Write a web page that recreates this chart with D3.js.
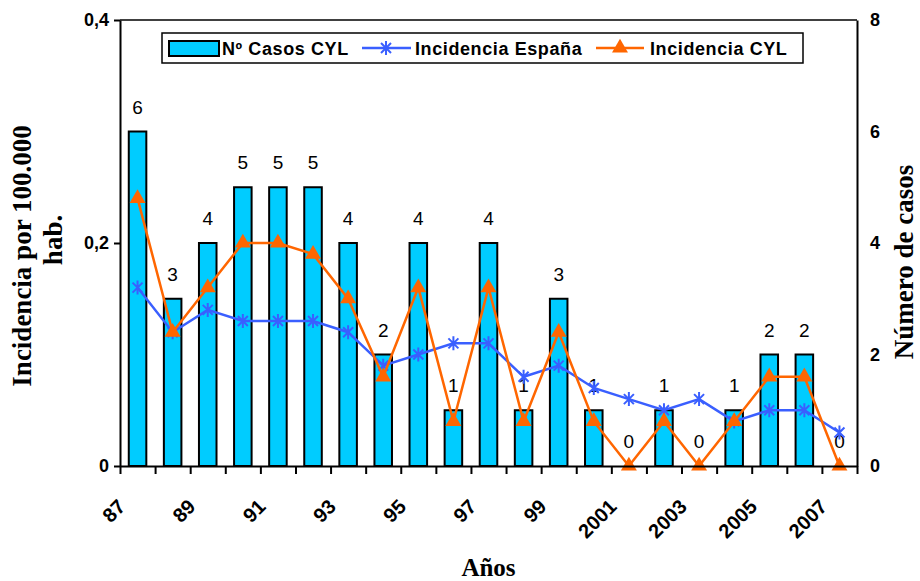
<!DOCTYPE html>
<html>
<head>
<meta charset="utf-8">
<script src="https://cdn.jsdelivr.net/npm/d3@7"></script>
<style>
  body { margin: 0; background: #fff; }
  svg { display: block; }
</style>
</head>
<body>
<svg id="chart" width="920" height="581"></svg>
<script>
// datos
const anios = ["87","88","89","90","91","92","93","94","95","96","97","98","99",
               "2000","2001","2002","2003","2004","2005","2006","2007"];
const casosCYL = [6,3,4,5,5,5,4,2,4,1,4,1,3,1,0,1,0,1,2,2,0];
const incEspana = [0.16,0.12,0.14,0.13,0.13,0.13,0.12,0.09,0.10,0.11,0.11,0.08,0.09,
                   0.07,0.06,0.05,0.06,0.04,0.05,0.05,0.03];
const incCYL = [0.24,0.12,0.16,0.20,0.20,0.19,0.15,0.08,0.16,0.04,0.16,0.04,0.12,
                0.04,0,0.04,0,0.04,0.08,0.08,0];
const ticksIzq = [0, 0.2, 0.4];
const ticksDer = [0, 2, 4, 6, 8];

const svg = d3.select("#chart");
const mIzq = 120, mDer = 857, mSup = 20, mInf = 466;

const x = d3.scaleBand().domain(anios).range([mIzq, mDer]).padding(0);
const step = x.step();
const cx = d => x(d) + step / 2;
const barW = step * 0.5;
const yL = d3.scaleLinear().domain([0, 0.4]).range([mInf, mSup]);
const yR = d3.scaleLinear().domain([0, 8]).range([mInf, mSup]);

const azul = "#3a5fff", naranja = "#ff6600", cian = "#00ccff";

// marco superior
svg.append("line")
    .attr("x1", mIzq).attr("x2", mDer).attr("y1", mSup).attr("y2", mSup)
    .attr("stroke", "#000").attr("stroke-width", 1.5);

// barras
svg.append("g")
    .selectAll("rect")
    .data(anios)
    .join("rect")
    .attr("x", d => cx(d) - barW / 2)
    .attr("width", barW)
    .attr("y", (d, i) => yR(casosCYL[i]))
    .attr("height", (d, i) => mInf - yR(casosCYL[i]))
    .attr("fill", cian)
    .attr("stroke", "#000")
    .attr("stroke-width", 2);

// etiquetas de casos
svg.append("g")
    .selectAll("text")
    .data(anios)
    .join("text")
    .attr("x", d => cx(d))
    .attr("y", (d, i) => yR(casosCYL[i]) - 18)
    .attr("text-anchor", "middle")
    .style("font", "19px Arial, 'Liberation Sans', sans-serif")
    .text((d, i) => casosCYL[i]);

// linea España
const linea = serie => d3.line()
    .x((d, i) => cx(anios[i]))
    .y(d => yL(d))(serie);

svg.append("path")
    .attr("d", linea(incEspana))
    .attr("fill", "none")
    .attr("stroke", azul)
    .attr("stroke-width", 2.5);

const estrella = "M-5,-5L5,5M-5,5L5,-5M0,-7L0,7";
svg.append("g")
    .selectAll("path")
    .data(incEspana)
    .join("path")
    .attr("transform", (d, i) => `translate(${cx(anios[i])},${yL(d)})`)
    .attr("d", estrella)
    .attr("stroke", azul)
    .attr("stroke-width", 2)
    .attr("fill", "none");

// linea CYL
svg.append("path")
    .attr("d", linea(incCYL))
    .attr("fill", "none")
    .attr("stroke", naranja)
    .attr("stroke-width", 2.5);

const triangulo = d3.symbol().type(d3.symbolTriangle).size(110);
svg.append("g")
    .selectAll("path")
    .data(incCYL)
    .join("path")
    .attr("transform", (d, i) => `translate(${cx(anios[i])},${yL(d)})`)
    .attr("d", triangulo)
    .attr("fill", naranja);

// ejes
const fmtIzq = d => d === 0 ? "0" : d3.format(".1f")(d).replace(".", ",");
const ejeIzq = svg.append("g")
    .attr("transform", `translate(${mIzq},0)`)
    .call(d3.axisLeft(yL).tickValues(ticksIzq).tickFormat(fmtIzq)
        .tickSize(6).tickSizeOuter(0).tickPadding(5));

const ejeDer = svg.append("g")
    .attr("transform", `translate(${mDer},0)`)
    .call(d3.axisRight(yR).tickValues(ticksDer).tickSize(0).tickSizeOuter(0).tickPadding(13));

const idx = d3.scaleLinear().domain([0, anios.length]).range([mIzq, mDer]);
const ejeX = svg.append("g")
    .attr("transform", `translate(0,${mInf})`)
    .call(d3.axisBottom(idx).tickValues(d3.range(anios.length + 1))
        .tickFormat("").tickSize(8).tickSizeOuter(0));

[ejeIzq, ejeDer, ejeX].forEach(g => {
    g.select(".domain").attr("stroke", "#000").attr("stroke-width", 2);
    g.selectAll(".tick line").attr("stroke", "#000").attr("stroke-width", 2);
    g.selectAll("text")
        .attr("fill", "#000")
        .style("font", "bold 18px Arial, 'Liberation Sans', sans-serif");
});

// etiquetas de años (una de cada dos)
svg.append("g")
    .selectAll("text")
    .data(anios.filter((d, i) => i % 2 === 0))
    .join("text")
    .attr("transform", d => `translate(${cx(d) - 11},${mInf + 42}) rotate(-45)`)
    .attr("text-anchor", "end")
    .style("font", "bold 20px Arial, 'Liberation Sans', sans-serif")
    .text(d => d);

// titulos de ejes
const serif = "bold 27px 'Times New Roman', 'Liberation Serif', serif";
svg.append("text")
    .attr("x", (mIzq + mDer) / 2).attr("y", 576)
    .attr("text-anchor", "middle")
    .style("font", "bold 25px 'Times New Roman', 'Liberation Serif', serif")
    .text("Años");

svg.append("text")
    .attr("transform", "translate(31,256) rotate(-90)")
    .attr("text-anchor", "middle")
    .style("font", serif)
    .text("Incidencia por 100.000");
svg.append("text")
    .attr("transform", "translate(62,240) rotate(-90)")
    .attr("text-anchor", "middle")
    .style("font", serif)
    .text("hab.");

svg.append("text")
    .attr("transform", "translate(913,262) rotate(-90)")
    .attr("text-anchor", "middle")
    .style("font", serif)
    .text("Número de casos");

// leyenda
const ley = svg.append("g");
ley.append("rect")
    .attr("x", 162).attr("y", 33).attr("width", 641).attr("height", 30)
    .attr("fill", "#fff").attr("stroke", "#000").attr("stroke-width", 1.5);
ley.append("rect")
    .attr("x", 169).attr("y", 41).attr("width", 50).attr("height", 15)
    .attr("fill", cian).attr("stroke", "#000").attr("stroke-width", 2);
ley.append("line")
    .attr("x1", 362).attr("x2", 411).attr("y1", 48).attr("y2", 48)
    .attr("stroke", azul).attr("stroke-width", 2.5);
ley.append("path")
    .attr("transform", "translate(386,48)").attr("d", estrella)
    .attr("stroke", azul).attr("stroke-width", 2).attr("fill", "none");
ley.append("line")
    .attr("x1", 596).attr("x2", 644).attr("y1", 48).attr("y2", 48)
    .attr("stroke", naranja).attr("stroke-width", 2.5);
ley.append("path")
    .attr("transform", "translate(620,48)").attr("d", triangulo)
    .attr("fill", naranja);

const textosLey = [
    {t: "Nº Casos CYL", x: 222},
    {t: "Incidencia España", x: 415},
    {t: "Incidencia CYL", x: 650}
];
ley.selectAll("text.ley")
    .data(textosLey)
    .join("text")
    .attr("class", "ley")
    .attr("x", d => d.x).attr("y", 55)
    .style("font", "bold 18px Arial, 'Liberation Sans', sans-serif")
    .style("letter-spacing", "0.6px")
    .text(d => d.t);
</script>
</body>
</html>
